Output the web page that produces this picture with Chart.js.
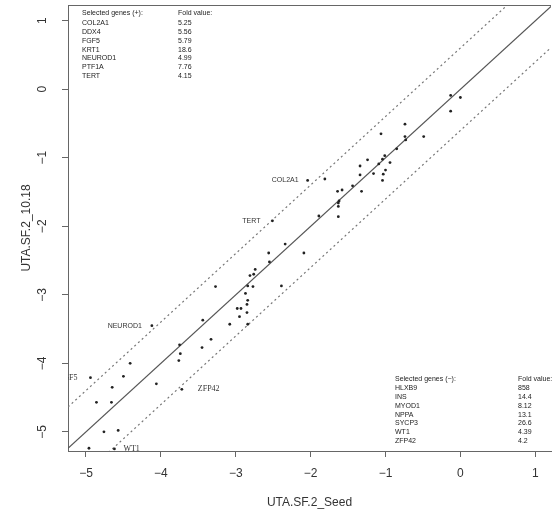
<!DOCTYPE html>
<html>
<head>
<meta charset="utf-8">
<script src="https://cdn.jsdelivr.net/npm/chart.js@4.4.1/dist/chart.umd.min.js"></script>
<style>
  html, body { margin: 0; padding: 0; background: #fff; overflow: hidden; }
  #wrap { width: 555px; height: 516px; position: relative; }
</style>
</head>
<body>
<div id="wrap"><canvas id="scatter"></canvas></div>
<script>
// axis ranges and ticks
const xLimits = [-5.24, 1.21];
const yLimits = [-5.28, 1.23];
const xTicks = [-5, -4, -3, -2, -1, 0, 1];
const yTicks = [-5, -4, -3, -2, -1, 0, 1];
const foldCutoff = 4;

// unlabelled genes: seed (x) vs 10.18 (y)
const seedValues = [
  -0.13, 0.00, -0.13, -0.74, -1.06, -0.74, -0.49, -0.73, -0.85, -1.01,
  -1.04, -1.24, -0.94, -1.09, -1.34, -1.00, -1.16, -1.03, -1.34, -1.04,
  -1.44, -1.64, -1.58, -1.32, -1.62, -1.63, -1.63, -1.63, -1.89, -1.81,
  -2.34, -2.56, -2.09, -2.55, -2.74, -2.76, -2.81, -2.84, -2.77, -3.27,
  -2.39, -2.87, -2.84, -2.85, -2.93, -2.98, -2.85, -2.95, -3.08, -2.84,
  -3.44, -3.33, -3.45, -3.75, -3.74, -3.76, -4.41, -4.50, -4.65, -4.86,
  -4.66, -4.06, -4.76, -4.57, -4.96
];
const sampleValues = [
  -0.09, -0.12, -0.32, -0.51, -0.65, -0.69, -0.69, -0.74, -0.87, -0.97,
  -1.02, -1.03, -1.07, -1.09, -1.12, -1.18, -1.23, -1.24, -1.25, -1.33,
  -1.41, -1.49, -1.47, -1.49, -1.63, -1.66, -1.71, -1.86, -1.85, -1.31,
  -2.26, -2.39, -2.39, -2.52, -2.63, -2.70, -2.72, -2.87, -2.88, -2.88,
  -2.87, -2.98, -3.08, -3.14, -3.20, -3.20, -3.26, -3.32, -3.43, -3.43,
  -3.37, -3.65, -3.77, -3.73, -3.86, -3.96, -4.00, -4.19, -4.35, -4.57,
  -4.57, -4.30, -5.00, -4.98, -5.24
];

// labelled genes
const labelGenes = ["COL2A1", "TERT", "NEUROD1", "ZFP42", "WT1", "FGF5"];
const labelSeed = [-2.04, -2.51, -4.12, -3.72, -4.62, -4.94];
const labelSample = [-1.33, -1.92, -3.45, -4.38, -5.25, -4.21];

// side tables
const plusGenes = ["COL2A1", "DDX4", "FGF5", "KRT1", "NEUROD1", "PTF1A", "TERT"];
const plusFold = ["5.25", "5.56", "5.79", "18.6", "4.99", "7.76", "4.15"];
const minusGenes = ["HLXB9", "INS", "MYOD1", "NPPA", "SYCP3", "WT1", "ZFP42"];
const minusFold = ["858", "14.4", "8.12", "13.1", "26.6", "4.39", "4.2"];

const SANS = "'Liberation Sans', Arial, sans-serif";
const SERIF = "'Liberation Serif', 'Times New Roman', serif";
const minus = v => String(v).replace("-", "\u2212");

// label placement (pixels from the point)
const labelStyle = {
  COL2A1: { dx: -9, align: "right", font: "7px " + SANS },
  TERT: { dx: -12, align: "right", font: "7px " + SANS },
  NEUROD1: { dx: -10, align: "right", font: "7px " + SANS },
  ZFP42: { dx: 16, align: "left", font: "8px " + SERIF },
  WT1: { dx: 9, align: "left", font: "8px " + SERIF },
  FGF5: { dx: -13, align: "right", font: "8px " + SERIF }
};

const cut = Math.log10(foldCutoff);
const diag = off => xLimits.map(x => ({ x: x, y: x + off }));

const decor = {
  id: "decor",
  afterDraw(chart) {
    const { ctx, chartArea: a, scales } = chart;
    const xs = scales.x, ys = scales.y;
    ctx.save();
    // top border
    ctx.strokeStyle = "#666";
    ctx.lineWidth = 1;
    ctx.beginPath();
    ctx.moveTo(a.left, a.top + 0.5);
    ctx.lineTo(a.right, a.top + 0.5);
    ctx.stroke();

    // rotated y tick labels
    ctx.fillStyle = "#333";
    ctx.font = "12px " + SANS;
    ctx.textAlign = "center";
    ctx.textBaseline = "middle";
    yTicks.forEach(v => {
      ctx.save();
      ctx.translate(43, ys.getPixelForValue(v));
      ctx.rotate(-Math.PI / 2);
      ctx.fillText(minus(v), 0, 0);
      ctx.restore();
    });

    // point labels, clipped to plot
    ctx.save();
    ctx.beginPath();
    ctx.rect(a.left, a.top, a.right - a.left, a.bottom - a.top);
    ctx.clip();
    ctx.fillStyle = "#333";
    labelGenes.forEach((g, i) => {
      const s = labelStyle[g];
      ctx.font = s.font;
      ctx.textAlign = s.align;
      ctx.fillText(g, xs.getPixelForValue(labelSeed[i]) + s.dx, ys.getPixelForValue(labelSample[i]));
    });
    ctx.restore();

    // tables
    ctx.font = "7px " + SANS;
    ctx.textAlign = "left";
    ctx.fillStyle = "#222";
    ctx.fillText("Selected genes (+):", 82, 13);
    ctx.fillText("Fold value:", 178, 13);
    plusGenes.forEach((g, i) => {
      ctx.fillText(g, 82, 23.5 + i * 8.7);
      ctx.fillText(plusFold[i], 178, 23.5 + i * 8.7);
    });
    ctx.fillText("Selected genes (\u2212):", 395, 379.5);
    ctx.fillText("Fold value:", 518, 379.5);
    minusGenes.forEach((g, i) => {
      ctx.fillText(g, 395, 388.5 + i * 8.7);
      ctx.fillText(minusFold[i], 518, 388.5 + i * 8.7);
    });
    ctx.restore();
  }
};

new Chart(document.getElementById("scatter"), {
  type: "scatter",
  data: {
    datasets: [
      {
        data: seedValues.map((x, i) => ({ x: x, y: sampleValues[i] })),
        pointRadius: 1.4,
        pointBackgroundColor: "#222",
        pointBorderWidth: 0
      },
      {
        data: labelSeed.map((x, i) => ({ x: x, y: labelSample[i] })),
        pointRadius: 1.4,
        pointBackgroundColor: "#222",
        pointBorderWidth: 0
      },
      {
        type: "line", data: diag(0), showLine: true, pointRadius: 0,
        borderColor: "#555", borderWidth: 1.2, clip: 0
      },
      {
        type: "line", data: diag(cut), showLine: true, pointRadius: 0,
        borderColor: "#777", borderWidth: 1.2, borderDash: [2, 3], clip: 0
      },
      {
        type: "line", data: diag(-cut), showLine: true, pointRadius: 0,
        borderColor: "#777", borderWidth: 1.2, borderDash: [2, 3], clip: 0
      }
    ]
  },
  options: {
    responsive: true,
    maintainAspectRatio: false,
    animation: false,
    layout: { padding: { top: 5, right: 0, bottom: 0, left: 0 } },
    plugins: { legend: { display: false }, tooltip: { enabled: false } },
    scales: {
      x: {
        type: "linear",
        min: xLimits[0],
        max: xLimits[1],
        afterBuildTicks: s => { s.ticks = xTicks.map(v => ({ value: v })); },
        afterFit: s => { s.height = 65; },
        border: { display: true, color: "#666" },
        grid: { drawOnChartArea: false, drawTicks: true, tickLength: 6, color: "#666" },
        ticks: {
          autoSkip: false, maxRotation: 0, padding: 9, color: "#333",
          font: { family: SANS, size: 12 },
          callback: v => minus(v)
        },
        title: {
          display: true, text: "UTA.SF.2_Seed", color: "#333",
          font: { family: SANS, size: 12 }, padding: { top: 0, bottom: 6 }
        }
      },
      y: {
        type: "linear",
        min: yLimits[0],
        max: yLimits[1],
        afterBuildTicks: s => { s.ticks = yTicks.map(v => ({ value: v })); },
        afterFit: s => { s.width = 68; },
        border: { display: true, color: "#666" },
        grid: { drawOnChartArea: false, drawTicks: true, tickLength: 6, color: "#666" },
        ticks: { display: false },
        title: {
          display: true, text: "UTA.SF.2_10.18", color: "#333",
          font: { family: SANS, size: 12 }, padding: { top: 19, bottom: 0 }
        }
      }
    }
  },
  plugins: [decor]
});
</script>
</body>
</html>
